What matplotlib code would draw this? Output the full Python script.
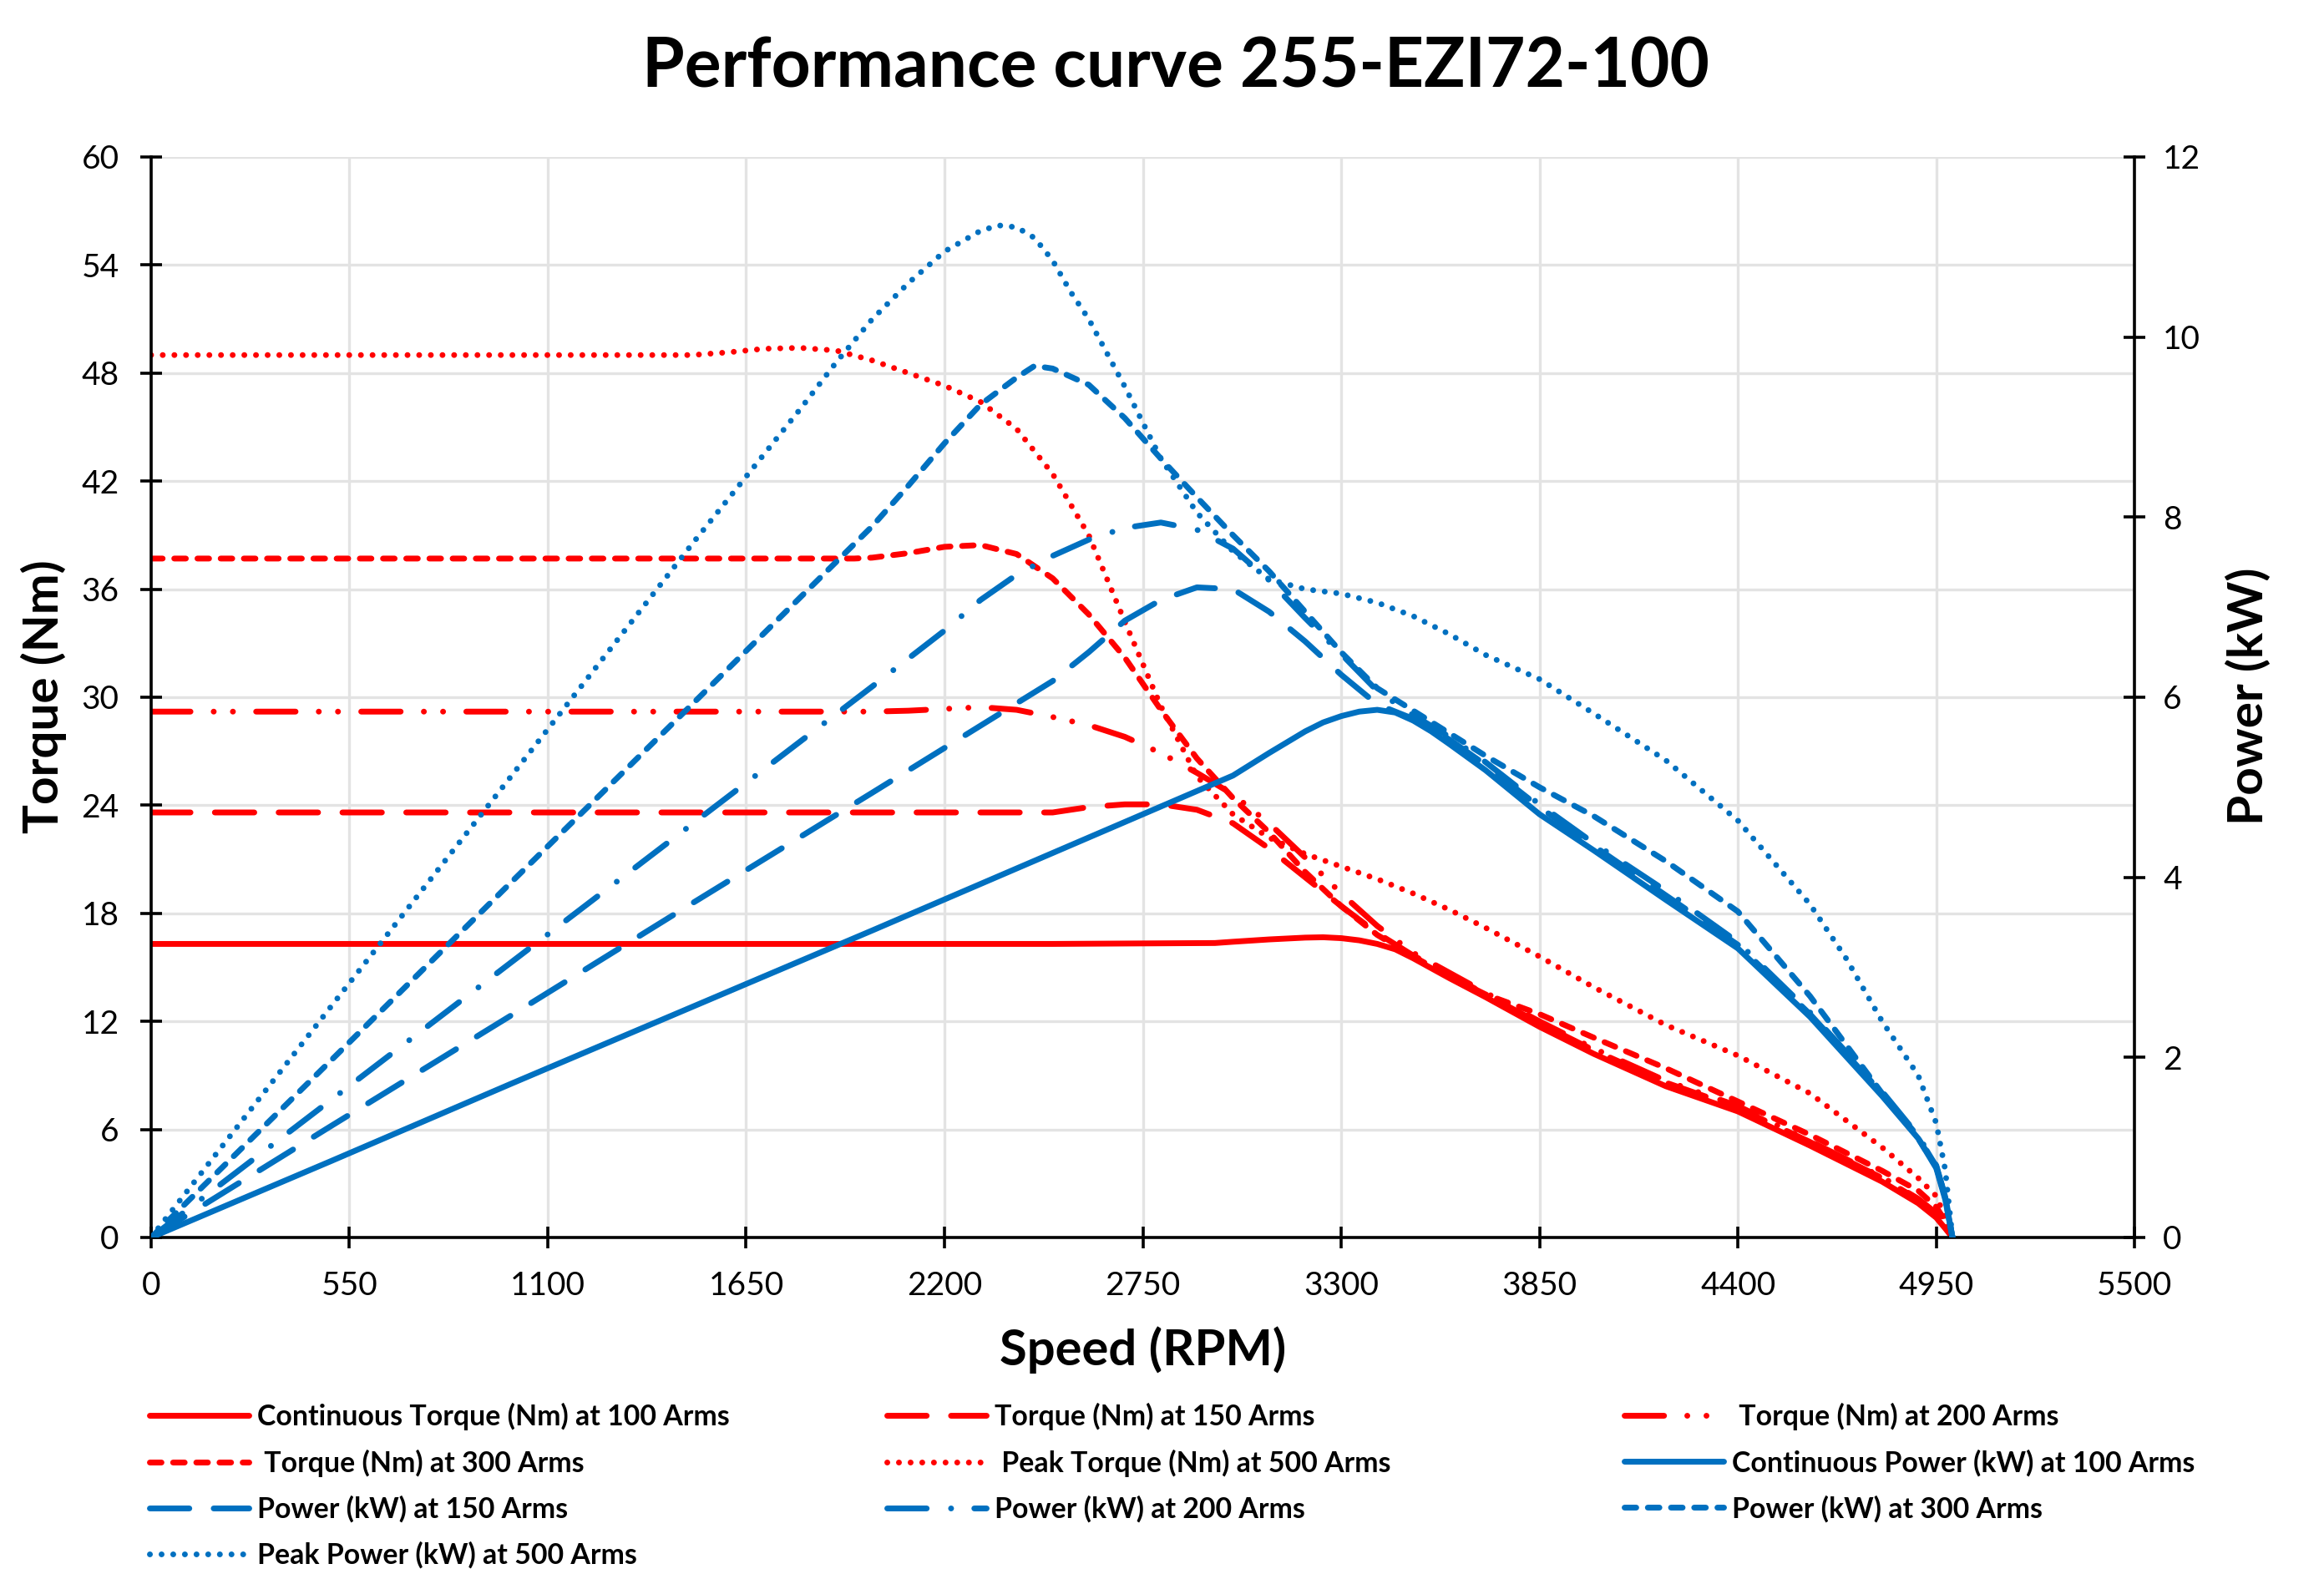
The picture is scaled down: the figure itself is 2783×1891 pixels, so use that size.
import numpy as np
import matplotlib.pyplot as plt

plt.rcParams['font.family'] = ['Lato', 'DejaVu Sans']

RED = '#FF0000'
BLUE = '#0070C0'

# ---- torque (Nm) ----
t100_rpm = [0, 500, 1000, 1500, 2000, 2500, 2950, 3000, 3100, 3200, 3250, 3300, 3350, 3400,
            3450, 3500, 3600, 3700, 3850, 4000, 4200, 4400, 4600, 4800, 4900, 4950, 4975, 4995]
t100 = [16.3, 16.3, 16.3, 16.3, 16.3, 16.3, 16.35, 16.42, 16.55, 16.65, 16.67, 16.62, 16.5, 16.3,
        16.0, 15.5, 14.4, 13.35, 11.7, 10.2, 8.4, 7.0, 5.1, 3.1, 1.9, 1.1, 0.5, 0.0]

t150_rpm = [0, 500, 1000, 1500, 2000, 2500, 2600, 2700, 2800, 2900, 3000, 3100, 3200, 3300,
            3400, 3500, 3600, 3700, 3850, 4000, 4200, 4400, 4600, 4800, 4900, 4950, 4975, 4995]
t150 = [23.6, 23.6, 23.6, 23.6, 23.6, 23.6, 23.9, 24.05, 24.05, 23.75, 23.0, 21.6, 20.0, 18.4,
        16.9, 15.65, 14.6, 13.5, 11.9, 10.4, 8.6, 7.2, 5.3, 3.3, 2.1, 1.3, 0.7, 0.0]

t200_rpm = [0, 500, 1000, 1500, 2000, 2100, 2200, 2300, 2400, 2500, 2600, 2700, 2800, 2900,
            3000, 3100, 3200, 3300, 3400, 3500, 3600, 3700, 3850, 4000, 4200, 4400, 4600,
            4800, 4900, 4950, 4975, 4995]
t200 = [29.2, 29.2, 29.2, 29.2, 29.2, 29.25, 29.35, 29.45, 29.3, 28.9, 28.45, 27.8, 26.9, 25.8,
        24.6, 23.0, 21.1, 19.1, 17.3, 15.8, 14.7, 13.6, 12.0, 10.5, 8.7, 7.3, 5.35, 3.35,
        2.15, 1.35, 0.7, 0.0]

t300_rpm = [0, 500, 1000, 1500, 1950, 2000, 2100, 2200, 2300, 2400, 2500, 2600, 2700, 2800,
            2900, 3000, 3100, 3200, 3300, 3400, 3500, 3600, 3700, 3850, 4000, 4200, 4400,
            4600, 4800, 4900, 4950, 4975, 4995]
t300 = [37.7, 37.7, 37.7, 37.7, 37.7, 37.75, 38.0, 38.35, 38.45, 37.95, 36.6, 34.6, 32.2, 29.3,
        26.6, 24.4, 22.5, 20.3, 18.4, 16.8, 15.6, 14.5, 13.5, 12.4, 11.1, 9.4, 7.55,
        5.7, 3.7, 2.6, 1.7, 0.9, 0.0]

t500_rpm = [0, 500, 1000, 1500, 1600, 1700, 1800, 1900, 2000, 2100, 2200, 2300, 2400, 2500,
            2600, 2700, 2800, 2900, 3000, 3100, 3200, 3300, 3400, 3500, 3600, 3700, 3850,
            4000, 4200, 4400, 4600, 4800, 4900, 4950, 4975, 4995]
t500 = [49.0, 49.0, 49.0, 49.0, 49.15, 49.35, 49.4, 49.25, 48.7, 48.0, 47.3, 46.4, 44.9, 42.4,
        39.0, 34.2, 29.5, 25.6, 23.5, 22.2, 21.3, 20.6, 19.9, 19.1, 18.2, 17.2, 15.6,
        13.9, 11.8, 10.1, 8.0, 5.0, 3.3, 2.3, 1.1, 0.0]

# ---- power (kW) ----
p100_rpm = [0, 500, 1000, 1500, 2000, 2500, 3000, 3100, 3200, 3250, 3300, 3350, 3400, 3450,
            3500, 3550, 3600, 3700, 3850, 4000, 4200, 4400, 4600, 4800, 4900, 4950, 4975, 4995]
p100 = [0, 0.85, 1.71, 2.56, 3.41, 4.27, 5.13, 5.38, 5.62, 5.72, 5.79, 5.84, 5.86, 5.83,
        5.74, 5.62, 5.48, 5.19, 4.7, 4.3, 3.75, 3.21, 2.45, 1.57, 1.1, 0.77, 0.42, 0]

p150_rpm = [0, 500, 1000, 1500, 2000, 2500, 2600, 2700, 2800, 2900, 3000, 3100, 3200, 3300,
            3400, 3500, 3600, 3700, 3850, 4000, 4200, 4400, 4600, 4800, 4900, 4950, 4975, 4995]
p150 = [0, 1.24, 2.47, 3.71, 4.94, 6.18, 6.5, 6.85, 7.08, 7.22, 7.2, 6.95, 6.62, 6.25,
        5.92, 5.76, 5.53, 5.25, 4.78, 4.35, 3.8, 3.25, 2.48, 1.6, 1.12, 0.79, 0.44, 0]

p200_rpm = [0, 500, 1000, 1500, 2000, 2200, 2300, 2400, 2500, 2600, 2700, 2800, 2900, 3000,
            3100, 3200, 3300, 3400, 3500, 3600, 3700, 3850, 4000, 4200, 4400, 4600, 4800,
            4900, 4950, 4975, 4995]
p200 = [0, 1.53, 3.06, 4.59, 6.12, 6.74, 7.08, 7.36, 7.57, 7.75, 7.88, 7.94, 7.86, 7.65,
        7.3, 6.88, 6.48, 6.07, 5.8, 5.56, 5.28, 4.81, 4.38, 3.85, 3.28, 2.5, 1.62,
        1.13, 0.8, 0.45, 0]

p300_rpm = [0, 500, 1000, 1500, 2000, 2100, 2200, 2300, 2400, 2450, 2500, 2600, 2700, 2800,
            2900, 3000, 3100, 3200, 3300, 3400, 3500, 3600, 3700, 3850, 4000, 4200, 4400,
            4600, 4800, 4900, 4950, 4975, 4995]
p300 = [0, 1.97, 3.95, 5.92, 7.9, 8.35, 8.82, 9.25, 9.55, 9.68, 9.65, 9.47, 9.1, 8.65,
        8.22, 7.8, 7.4, 6.95, 6.5, 6.1, 5.85, 5.6, 5.35, 5.0, 4.68, 4.18, 3.62,
        2.68, 1.6, 1.1, 0.78, 0.46, 0]

p500_rpm = [0, 500, 1000, 1500, 1800, 1900, 2000, 2100, 2200, 2300, 2350, 2400, 2450, 2500,
            2550, 2600, 2700, 2800, 2900, 3000, 3100, 3200, 3300, 3400, 3500, 3600, 3700,
            3850, 4000, 4200, 4400, 4600, 4700, 4800, 4900, 4950, 4975, 4995]
p500 = [0, 2.57, 5.13, 7.7, 9.2, 9.72, 10.2, 10.6, 10.95, 11.18, 11.24, 11.22, 11.1, 10.85,
        10.5, 10.2, 9.45, 8.65, 8.05, 7.62, 7.31, 7.2, 7.15, 7.05, 6.9, 6.7, 6.47,
        6.2, 5.82, 5.3, 4.63, 3.7, 3.1, 2.4, 1.8, 1.27, 0.75, 0]

labels = {
    't100': 'Continuous Torque (Nm) at 100 Arms',
    't150': 'Torque (Nm) at 150 Arms',
    't200': ' Torque (Nm) at 200 Arms',
    't300': ' Torque (Nm) at 300 Arms',
    't500': ' Peak Torque (Nm) at 500 Arms',
    'p100': 'Continuous Power (kW) at 100 Arms',
    'p150': 'Power (kW) at 150 Arms',
    'p200': 'Power (kW) at 200 Arms',
    'p300': 'Power (kW) at 300 Arms',
    'p500': 'Peak Power (kW) at 500 Arms',
}

# dash patterns (in line widths, round caps)
SOLID = None
LONG_DASH = (6.8, 4.2)
DASH = (2.0, 2.0)
LDASH_DOT = (6.8, 4.2, 0.01, 4.0)
LDASH_DOT_DOT = (6.8, 4.0, 0.01, 3.3, 0.01, 4.0)
DOT = (0.01, 2.0)

LW = 2.5

fig = plt.figure(figsize=(13.915, 9.455), dpi=200)
ax = fig.add_axes([0.065, 0.2163, 0.8535, 0.6843])
ax2 = ax.twinx()


def draw(a, x, y, color, dashes, label):
    line, = a.plot(x, y, color=color, lw=LW, label=label,
                   solid_capstyle='round', dash_capstyle='round',
                   solid_joinstyle='round', dash_joinstyle='round')
    if dashes is not None:
        line.set_dashes(dashes)
    return line


h = {}
h['t100'] = draw(ax, t100_rpm, t100, RED, SOLID, labels['t100'])
h['t150'] = draw(ax, t150_rpm, t150, RED, LONG_DASH, labels['t150'])
h['t200'] = draw(ax, t200_rpm, t200, RED, LDASH_DOT_DOT, labels['t200'])
h['t300'] = draw(ax, t300_rpm, t300, RED, DASH, labels['t300'])
h['t500'] = draw(ax, t500_rpm, t500, RED, DOT, labels['t500'])
h['p100'] = draw(ax2, p100_rpm, p100, BLUE, SOLID, labels['p100'])
h['p150'] = draw(ax2, p150_rpm, p150, BLUE, LONG_DASH, labels['p150'])
h['p200'] = draw(ax2, p200_rpm, p200, BLUE, LDASH_DOT, labels['p200'])
h['p300'] = draw(ax2, p300_rpm, p300, BLUE, DASH, labels['p300'])
h['p500'] = draw(ax2, p500_rpm, p500, BLUE, DOT, labels['p500'])

ax.set_xlim(0, 5500)
ax.set_ylim(0, 60)
ax2.set_ylim(0, 12)
ax.set_xticks(np.arange(0, 5501, 550))
ax.set_yticks(np.arange(0, 61, 6))
ax2.set_yticks(np.arange(0, 13, 2))

ax.grid(True, color='#e3e3e3', lw=1.2)
ax.set_axisbelow(True)

for s in ['top', 'right']:
    ax.spines[s].set_visible(False)
for s in ['top', 'left', 'bottom']:
    ax2.spines[s].set_visible(False)
for s in ['left', 'bottom']:
    ax.spines[s].set_linewidth(1.3)
ax2.spines['right'].set_linewidth(1.3)

ax.tick_params(axis='both', direction='inout', length=9.5, width=1.3, labelsize=14)
ax.tick_params(axis='y', pad=9)
ax.tick_params(axis='x', pad=9.5)
ax2.tick_params(axis='y', direction='inout', length=9.5, width=1.3, labelsize=14, pad=7.5)

fig.text(0.506, 0.957, 'Performance curve 255-EZI72-100', ha='center', va='center',
         fontsize=29.5, fontweight='bold')
fig.text(0.4917, 0.145, 'Speed (RPM)', ha='center', va='center', fontsize=21.5, fontweight='bold')
fig.text(0.019, 0.559, 'Torque (Nm)', ha='center', va='center', rotation=90,
         fontsize=21, fontweight='bold')
fig.text(0.9675, 0.559, 'Power (kW)', ha='center', va='center', rotation=90,
         fontsize=21, fontweight='bold')

columns = [['t100', 't300', 'p150', 'p500'],
           ['t150', 't500', 'p200'],
           ['t200', 'p100', 'p300']]
col_x = [179 / 2783, 1062 / 2783, 1945 / 2783]
for keys, x0 in zip(columns, col_x):
    lg = fig.legend([h[k] for k in keys], [labels[k] for k in keys],
                    loc='upper left', bbox_to_anchor=(x0, 0.1115),
                    frameon=False, borderpad=0, borderaxespad=0,
                    handlelength=3.5, handletextpad=0.3, labelspacing=0.66,
                    prop={'size': 12.2, 'weight': 'bold'})

fig.savefig('out.png', dpi=200)
